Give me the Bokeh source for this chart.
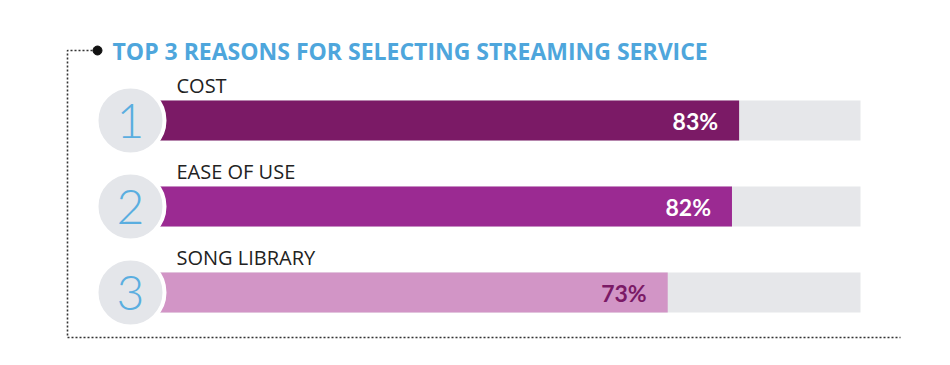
from bokeh.plotting import figure
from bokeh.models import Range1d, ColumnDataSource
from bokeh.core.properties import value
from bokeh.embed import file_html
from bokeh.resources import INLINE

title = "TOP 3 REASONS FOR SELECTING STREAMING SERVICE"
ranks = ["1", "2", "3"]
categories = ["COST", "EASE OF USE", "SONG LIBRARY"]
values = [83, 82, 73]
bar_colors = ["#7b1a66", "#9b2a92", "#d295c6"]
label_colors = ["#ffffff", "#ffffff", "#7b1a66"]

W, H = 934, 349
OX, OY = 0, 0
X0, K = 146.0, 7.14       # image px of 0% and px per %
ROW0, ROWH = 120.0, 86.0  # image px of first row centre, row spacing

def px2x(px):
    return (px - X0) / K

def px2y(py):
    return (py - ROW0) / ROWH

p = figure(width=W, height=H, output_backend="svg", toolbar_location=None,
           x_range=Range1d(px2x(OX), px2x(OX + W)),
           y_range=Range1d(px2y(OY + H), px2y(OY)),
           x_axis_type=None, y_axis_type=None,
           min_border=0, min_border_left=0, min_border_right=0,
           min_border_top=0, min_border_bottom=0)
p.outline_line_color = None
p.grid.visible = False
p.background_fill_color = "white"
p.border_fill_color = "white"

n = len(categories)
rows = list(range(n))
bh = 40 / ROWH

src = ColumnDataSource(dict(
    row=rows, cat=categories, val=values, rank=ranks,
    color=bar_colors, lcolor=label_colors,
    lbl=[f"{v}%" for v in values],
    zero=[0] * n, full=[100] * n,
))

# dotted frame
p.line([px2x(92), px2x(67), px2x(67), px2x(900)],
       [px2y(50), px2y(50), px2y(337), px2y(337)],
       line_color="#333333", line_width=1.6, line_dash="2 2")
p.scatter([px2x(97)], [px2y(50)], size=9, color="#111111")

# title
p.text([px2x(112)], [px2y(50)], text=[title], text_font=value("Open Sans"),
       text_font_style="bold", text_font_size="23px", text_color="#4ea6dc",
       text_baseline="middle", text_align="left")

# tracks and bars
p.hbar(y="row", left="zero", right="full", height=bh, source=src,
       fill_color="#e6e7ea", line_color=None)
p.hbar(y="row", left="zero", right="val", height=bh, source=src,
       fill_color="color", line_color=None)

# rank circles
p.circle(x=[px2x(130)] * n, y=rows, radius=34, radius_units="screen",
         fill_color="#e4e6ea", line_color="white", line_width=4)
p.text(x=[px2x(130)] * n, y=rows, text=ranks,
       text_font=value("Lato Light"), text_font_size="48px",
       text_color="#5aaee0", text_align="center", text_baseline="middle")

# category labels
p.text(x=px2x(176), y="row", text="cat", source=src, y_offset=-35,
       text_font=value("Open Sans"), text_font_size="20px", text_color="#222222",
       text_align="left", text_baseline="alphabetic")

# value labels
p.text(x="val", y="row", text="lbl", source=src, x_offset=-21,
       text_font=value("Lato"), text_font_style="bold", text_font_size="23px",
       text_color="lcolor", text_align="right", text_baseline="middle")

open("out.html", "w").write(file_html(p, INLINE))
